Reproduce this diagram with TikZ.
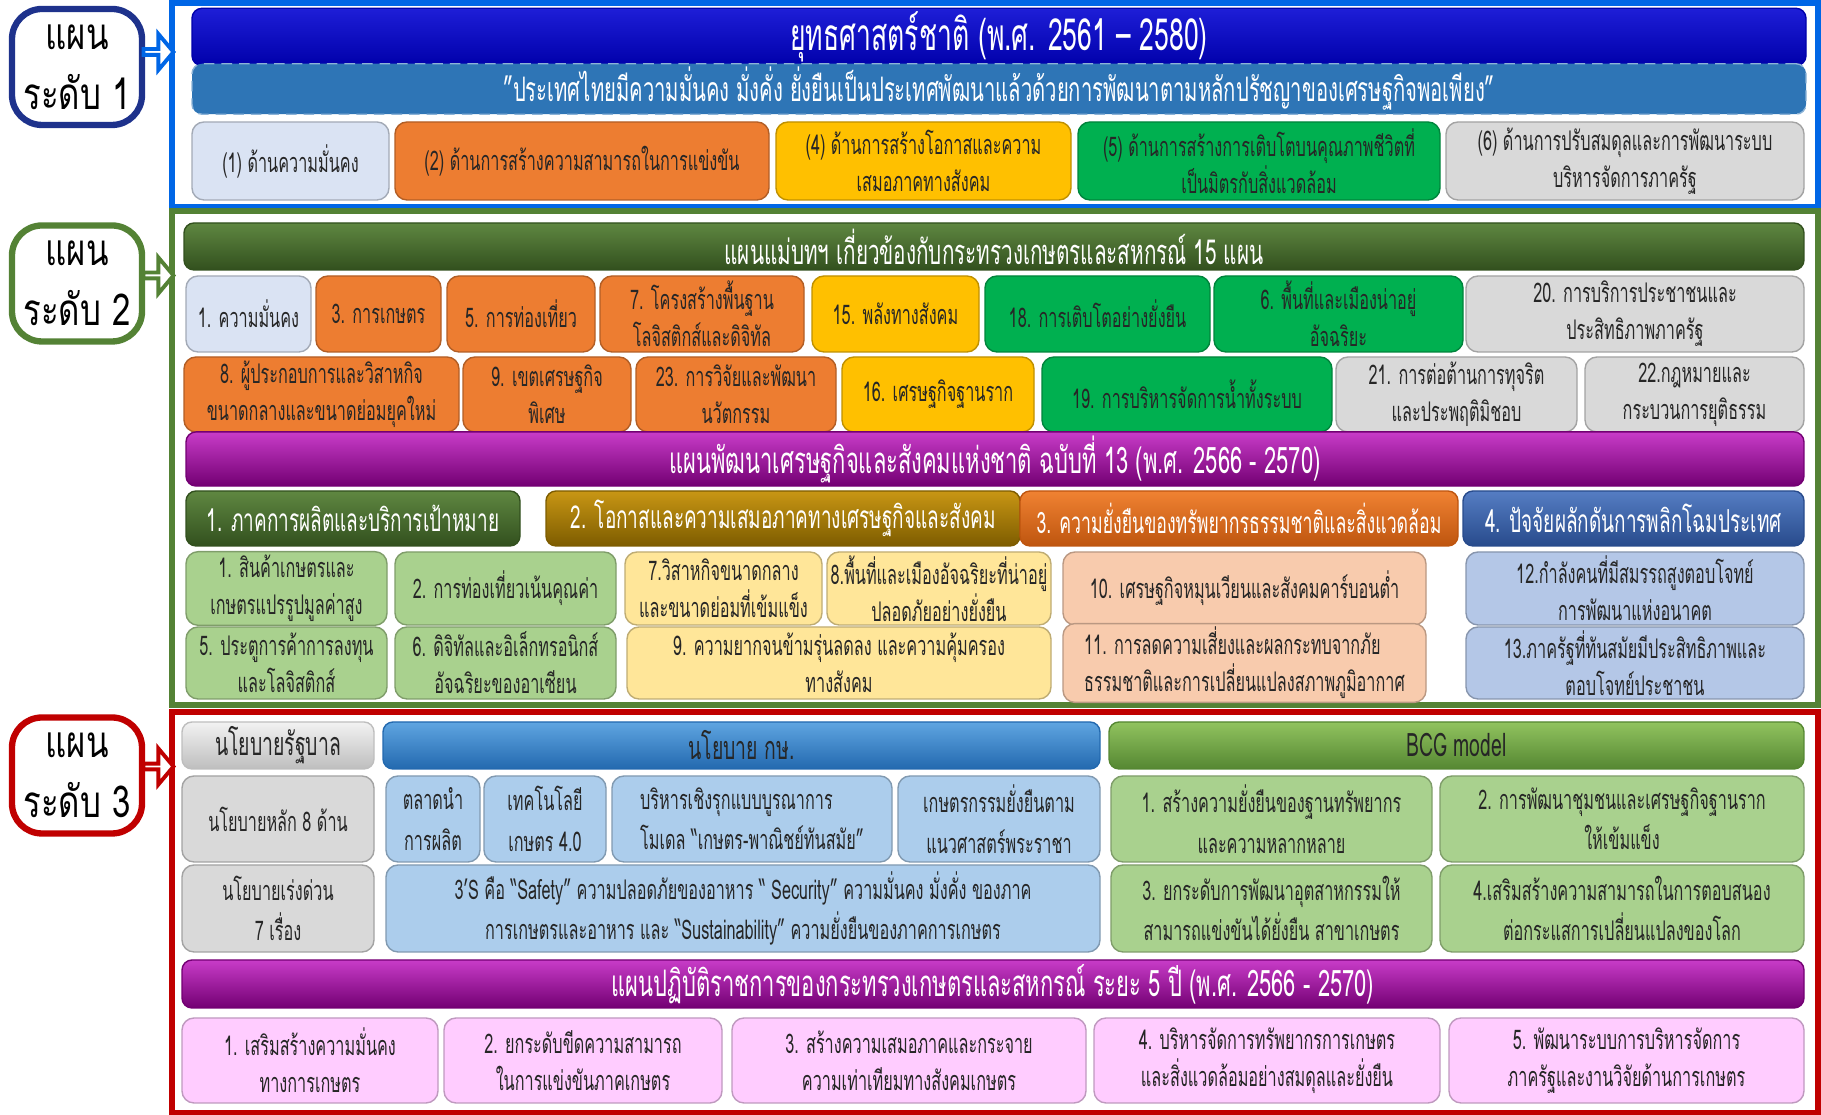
\documentclass[tikz,border=0pt]{standalone}
\usepackage{fontspec}
\setmainfont{Loma}[Script=Thai,FakeStretch=0.6]
\newfontfamily\labfont{Loma}[Script=Thai,FakeStretch=0.75]
\usetikzlibrary{shapes.arrows}

\definecolor{navy}{RGB}{30,50,140}
\definecolor{lvblue}{RGB}{0,102,230}
\definecolor{lvgreen}{RGB}{84,130,53}
\definecolor{lvred}{RGB}{192,0,0}
\definecolor{titletop}{RGB}{30,30,215}
\definecolor{titlebot}{RGB}{0,0,170}
\definecolor{visionblue}{RGB}{46,117,182}
\definecolor{paleblue}{RGB}{218,227,243}
\definecolor{boxorange}{RGB}{237,125,49}
\definecolor{boxgold}{RGB}{255,192,0}
\definecolor{boxgreen}{RGB}{0,176,80}
\definecolor{boxgray}{RGB}{217,217,217}
\definecolor{mosstop}{RGB}{95,135,65}
\definecolor{mossbot}{RGB}{50,80,30}
\definecolor{plumtop}{RGB}{200,60,200}
\definecolor{plumbot}{RGB}{115,0,115}
\definecolor{olivetop}{RGB}{200,150,20}
\definecolor{olivebot}{RGB}{125,92,0}
\definecolor{rusttop}{RGB}{240,130,50}
\definecolor{rustbot}{RGB}{190,85,15}
\definecolor{steeltop}{RGB}{85,125,195}
\definecolor{steelbot}{RGB}{40,75,140}
\definecolor{leaf}{RGB}{169,209,142}
\definecolor{cream}{RGB}{255,230,153}
\definecolor{peach}{RGB}{248,203,173}
\definecolor{sky}{RGB}{180,199,231}
\definecolor{greytop}{RGB}{242,242,242}
\definecolor{greybot}{RGB}{190,190,190}
\definecolor{policytop}{RGB}{95,165,225}
\definecolor{policybot}{RGB}{35,105,175}
\definecolor{policy}{RGB}{172,205,236}
\definecolor{bcgtop}{RGB}{145,195,95}
\definecolor{bcgbot}{RGB}{85,135,50}
\definecolor{pinkbox}{RGB}{255,204,255}

\begin{document}
\begin{tikzpicture}[
  lab/.style={draw=#1, line width=1.8pt, rounded corners=3mm, fill=white, minimum width=1.3cm, minimum height=1.16cm, align=center, inner sep=0pt, font=\labfont\fontsize{12.5}{17}\selectfont},
  lvframe/.style={draw=#1, line width=1.5pt, inner sep=0pt},
  blockarrow/.style={single arrow, draw=#1, fill=white, line width=1.1pt, inner sep=0pt, minimum height=0.30cm, minimum width=0.36cm, single arrow head extend=0.1cm, single arrow tip angle=100},
  wh/.style 2 args={minimum width=#1cm, minimum height=#2cm},
  box/.style={draw=#1!75!black, fill=#1, rounded corners=1.2mm, align=center, inner sep=1pt, text=black!85, font=\fontsize{7.7}{10.5}\selectfont},
  bar/.style 2 args={top color=#1, bottom color=#2, draw=#2, rounded corners=1mm, text=white, inner sep=1pt, font=\fontsize{10.2}{12}\selectfont},
]
\useasboundingbox (0,0) rectangle (18.21,11.15);

% level 1
\node[lab=navy] (lab1) at (0.77,10.48) {แผน\\ระดับ 1};
\node[lvframe=lvblue, wh={16.46}{2.04}] (lvone) at (9.95,10.10) {};
\path ([yshift=1.5mm]lab1.east) -- ([yshift=1.5mm]lab1.east -| lvone.west) node[midway, blockarrow=lvblue] (arr1) {};

\node[bar={titletop}{titlebot}, wh={16.14}{0.46}, font=\fontsize{12.6}{14}\selectfont] (strat) at (9.99,10.78) {ยุทธศาสตร์ชาติ (พ.ศ. 2561 – 2580)};
\node[bar={visionblue}{visionblue}, draw=visionblue!55!white, densely dashed, wh={16.14}{0.50}, font=\fontsize{9.6}{12}\selectfont] (vision) at (9.99,10.26) {"ประเทศไทยมีความมั่นคง มั่งคั่ง ยั่งยืนเป็นประเทศพัฒนาแล้วด้วยการพัฒนาตามหลักปรัชญาของเศรษฐกิจพอเพียง"};

\node[box=paleblue, wh={1.97}{0.78}] (ys1) at (2.905,9.54) {(1) ด้านความมั่นคง};
\node[box=boxorange, wh={3.74}{0.78}] (ys2) at (5.82,9.54) {(2) ด้านการสร้างความสามารถในการแข่งขัน};
\node[box=boxgold, wh={2.95}{0.78}] (ys4) at (9.235,9.54) {(4) ด้านการสร้างโอกาสและความ\\เสมอภาคทางสังคม};
\node[box=boxgreen, wh={3.62}{0.78}] (ys5) at (12.59,9.54) {(5) ด้านการสร้างการเติบโตบนคุณภาพชีวิตที่\\เป็นมิตรกับสิ่งแวดล้อม};
\node[box=boxgray, wh={3.58}{0.78}] (ys6) at (16.25,9.54) {(6) ด้านการปรับสมดุลและการพัฒนาระบบ\\บริหารจัดการภาครัฐ};

% level 2
\node[lab=lvgreen] (lab2) at (0.77,8.315) {แผน\\ระดับ 2};
\node[lvframe=lvgreen, wh={16.46}{4.94}] (lvtwo) at (9.95,6.57) {};
\path ([yshift=0.8mm]lab2.east) -- ([yshift=0.8mm]lab2.east -| lvtwo.west) node[midway, blockarrow=lvgreen] (arr2) {};

\node[bar={mosstop}{mossbot}, wh={16.20}{0.47}, font=\fontsize{9.8}{12}\selectfont] (master) at (9.94,8.685) {แผนแม่บทฯ เกี่ยวข้องกับกระทรวงเกษตรและสหกรณ์ 15 แผน};

\node[box=paleblue, wh={1.25}{0.76}] (mp1) at (2.485,8.01) {1. ความมั่นคง};
\node[box=boxorange, wh={1.25}{0.76}] (mp3) at (3.785,8.01) {3. การเกษตร};
\node[box=boxorange, wh={1.48}{0.76}] (mp5) at (5.21,8.01) {5. การท่องเที่ยว};
\node[box=boxorange, wh={2.04}{0.76}] (mp7) at (7.02,8.01) {7. โครงสร้างพื้นฐาน\\โลจิสติกส์และดิจิทัล};
\node[box=boxgold, wh={1.67}{0.76}] (mp15) at (8.955,8.01) {15. พลังทางสังคม};
\node[box=boxgreen, wh={2.25}{0.76}] (mp18) at (10.975,8.01) {18. การเติบโตอย่างยั่งยืน};
\node[box=boxgreen, wh={2.49}{0.76}] (mp6) at (13.385,8.01) {6. พื้นที่และเมืองน่าอยู่\\อัจฉริยะ};
\node[box=boxgray, wh={3.38}{0.76}] (mp20) at (16.35,8.01) {20. การบริการประชาชนและ\\ประสิทธิภาพภาครัฐ};

\node[box=boxorange, wh={2.75}{0.75}] (mp8) at (3.215,7.205) {8. ผู้ประกอบการและวิสาหกิจ\\ขนาดกลางและขนาดย่อมยุคใหม่};
\node[box=boxorange, wh={1.68}{0.75}] (mp9) at (5.47,7.205) {9. เขตเศรษฐกิจ\\พิเศษ};
\node[box=boxorange, wh={2.00}{0.75}] (mp23) at (7.36,7.205) {23. การวิจัยและพัฒนา\\นวัตกรรม};
\node[box=boxgold, wh={1.92}{0.75}] (mp16) at (9.38,7.205) {16. เศรษฐกิจฐานราก};
\node[box=boxgreen, wh={2.90}{0.75}] (mp19) at (11.87,7.205) {19. การบริหารจัดการน้ำทั้งระบบ};
\node[box=boxgray, wh={2.41}{0.75}] (mp21) at (14.565,7.205) {21. การต่อต้านการทุจริต\\และประพฤติมิชอบ};
\node[box=boxgray, wh={2.19}{0.75}] (mp22) at (16.945,7.205) {22.กฎหมายและ\\กระบวนการยุติธรรม};

\node[bar={plumtop}{plumbot}, wh={16.18}{0.46}, font=\fontsize{10.4}{12}\selectfont] (nesdp) at (9.95,6.56) {แผนพัฒนาเศรษฐกิจและสังคมแห่งชาติ ฉบับที่ 13 (พ.ศ. 2566 - 2570)};

\node[bar={mosstop}{mossbot}, wh={3.34}{0.55}, font=\fontsize{9}{12}\selectfont] (hd1) at (3.53,5.965) {1. ภาคการผลิตและบริการเป้าหมาย};
\node[bar={olivetop}{olivebot}, wh={4.74}{0.55}, font=\fontsize{9}{12}\selectfont] (hd2) at (7.83,5.965) {2. โอกาสและความเสมอภาคทางเศรษฐกิจและสังคม};
\node[bar={rusttop}{rustbot}, wh={4.38}{0.55}, font=\fontsize{8.4}{12}\selectfont] (hd3) at (12.39,5.965) {3. ความยั่งยืนของทรัพยากรธรรมชาติและสิ่งแวดล้อม};
\node[bar={steeltop}{steelbot}, wh={3.41}{0.55}, font=\fontsize{9}{12}\selectfont] (hd4) at (16.335,5.965) {4. ปัจจัยผลักดันการพลิกโฉมประเทศ};

\node[box=leaf, wh={2.01}{0.73}] (ms1) at (2.865,5.265) {1. สินค้าเกษตรและ\\เกษตรแปรรูปมูลค่าสูง};
\node[box=leaf, wh={2.21}{0.73}] (ms2) at (5.055,5.265) {2. การท่องเที่ยวเน้นคุณค่า};
\node[box=cream, wh={1.97}{0.73}] (ms7) at (7.235,5.265) {7.วิสาหกิจขนาดกลาง\\และขนาดย่อมที่เข้มแข็ง};
\node[box=cream, wh={2.24}{0.73}] (ms8) at (9.39,5.265) {8.พื้นที่และเมืองอัจฉริยะที่น่าอยู่\\ปลอดภัยอย่างยั่งยืน};
\node[box=peach, wh={3.63}{0.73}] (ms10) at (12.445,5.265) {10. เศรษฐกิจหมุนเวียนและสังคมคาร์บอนต่ำ};
\node[box=sky, wh={3.38}{0.73}] (ms12) at (16.35,5.265) {12.กำลังคนที่มีสมรรถสูงตอบโจทย์\\การพัฒนาแห่งอนาคต};

\node[box=leaf, wh={2.01}{0.72}] (ms5) at (2.865,4.52) {5. ประตูการค้าการลงทุน\\และโลจิสติกส์};
\node[box=leaf, wh={2.21}{0.72}] (ms6) at (5.055,4.52) {6. ดิจิทัลและอิเล็กทรอนิกส์\\อัจฉริยะของอาเซียน};
\node[box=cream, wh={4.24}{0.72}] (ms9) at (8.39,4.52) {9. ความยากจนข้ามรุ่นลดลง และความคุ้มครอง\\ทางสังคม};
\node[box=peach, wh={3.63}{0.72}, align=left] (ms11) at (12.445,4.52) {11. การลดความเสี่ยงและผลกระทบจากภัย\\ธรรมชาติและการเปลี่ยนแปลงสภาพภูมิอากาศ};
\node[box=sky, wh={3.38}{0.72}] (ms13) at (16.35,4.52) {13.ภาครัฐที่ทันสมัยมีประสิทธิภาพและ\\ตอบโจทย์ประชาชน};

% level 3
\node[lab=lvred] (lab3) at (0.77,3.395) {แผน\\ระดับ 3};
\node[lvframe=lvred, wh={16.46}{4.01}] (lvthree) at (9.95,2.025) {};
\path ([yshift=0.9mm]lab3.east) -- ([yshift=0.9mm]lab3.east -| lvthree.west) node[midway, blockarrow=lvred] (arr3) {};

\node[bar={greytop}{greybot}, text=black!85, wh={1.92}{0.47}, font=\fontsize{9.2}{12}\selectfont] (gov) at (2.78,3.695) {นโยบายรัฐบาล};
\node[bar={policytop}{policybot}, text=black!85, wh={7.17}{0.47}, font=\fontsize{9.2}{12}\selectfont] (moac) at (7.415,3.695) {นโยบาย กษ.};
\node[bar={bcgtop}{bcgbot}, text=black!85, wh={6.95}{0.47}, font=\fontsize{9.2}{12}\selectfont] (bcg) at (14.565,3.695) {BCG model};

\node[box=boxgray, wh={1.92}{0.86}] (main8) at (2.78,2.96) {นโยบายหลัก 8 ด้าน};
\node[box=policy, wh={0.94}{0.86}, font=\fontsize{7.7}{11.5}\selectfont] (pol1) at (4.33,2.96) {ตลาดนำ\\การผลิต};
\node[box=policy, wh={1.22}{0.86}, font=\fontsize{7.7}{11.5}\selectfont] (pol2) at (5.45,2.96) {เทคโนโลยี\\เกษตร 4.0};
\node[box=policy, wh={2.80}{0.86}, align=left, font=\fontsize{7.7}{11.5}\selectfont] (pol3) at (7.52,2.96) {บริหารเชิงรุกแบบบูรณาการ\\โมเดล “เกษตร-พาณิชย์ทันสมัย”};
\node[box=policy, wh={2.02}{0.86}, font=\fontsize{7.7}{11.5}\selectfont] (pol4) at (9.99,2.96) {เกษตรกรรมยั่งยืนตาม\\แนวศาสตร์พระราชา};
\node[box=leaf, wh={3.21}{0.86}, font=\fontsize{7.7}{11.5}\selectfont] (bcg1) at (12.715,2.96) {1. สร้างความยั่งยืนของฐานทรัพยากร\\และความหลากหลาย};
\node[box=leaf, wh={3.64}{0.86}, font=\fontsize{7.7}{11.5}\selectfont] (bcg2) at (16.22,2.96) {2. การพัฒนาชุมชนและเศรษฐกิจฐานราก\\ให้เข้มแข็ง};

\node[box=boxgray, wh={1.92}{0.87}, font=\fontsize{7.7}{11.5}\selectfont] (urgent7) at (2.78,2.065) {นโยบายเร่งด่วน\\7 เรื่อง};
\node[box=policy, wh={7.14}{0.87}, font=\fontsize{7.7}{11.5}\selectfont] (three) at (7.43,2.065) {3’S คือ “Safety” ความปลอดภัยของอาหาร “ Security” ความมั่นคง มั่งคั่ง ของภาค\\การเกษตรและอาหาร และ “Sustainability” ความยั่งยืนของภาคการเกษตร};
\node[box=leaf, wh={3.21}{0.87}, font=\fontsize{7.7}{11.5}\selectfont] (bcg3) at (12.715,2.065) {3. ยกระดับการพัฒนาอุตสาหกรรมให้\\สามารถแข่งขันได้ยั่งยืน สาขาเกษตร};
\node[box=leaf, wh={3.64}{0.87}, font=\fontsize{7.7}{11.5}\selectfont] (bcg4) at (16.22,2.065) {4.เสริมสร้างความสามารถในการตอบสนอง\\ต่อกระแสการเปลี่ยนแปลงของโลก};

\node[bar={plumtop}{plumbot}, wh={16.22}{0.48}, font=\fontsize{10.4}{12}\selectfont] (action) at (9.93,1.31) {แผนปฏิบัติราชการของกระทรวงเกษตรและสหกรณ์ ระยะ 5 ปี (พ.ศ. 2566 - 2570)};

\node[box=pinkbox, wh={2.56}{0.85}] (ap1) at (3.10,0.545) {1. เสริมสร้างความมั่นคง\\ทางการเกษตร};
\node[box=pinkbox, wh={2.78}{0.85}] (ap2) at (5.83,0.545) {2. ยกระดับขีดความสามารถ\\ในการแข่งขันภาคเกษตร};
\node[box=pinkbox, wh={3.54}{0.85}] (ap3) at (9.09,0.545) {3. สร้างความเสมอภาคและกระจาย\\ความเท่าเทียมทางสังคมเกษตร};
\node[box=pinkbox, wh={3.46}{0.85}] (ap4) at (12.67,0.545) {4. บริหารจัดการทรัพยากรการเกษตร\\และสิ่งแวดล้อมอย่างสมดุลและยั่งยืน};
\node[box=pinkbox, wh={3.55}{0.85}] (ap5) at (16.265,0.545) {5. พัฒนาระบบการบริหารจัดการ\\ภาครัฐและงานวิจัยด้านการเกษตร};
\end{tikzpicture}
\end{document}
